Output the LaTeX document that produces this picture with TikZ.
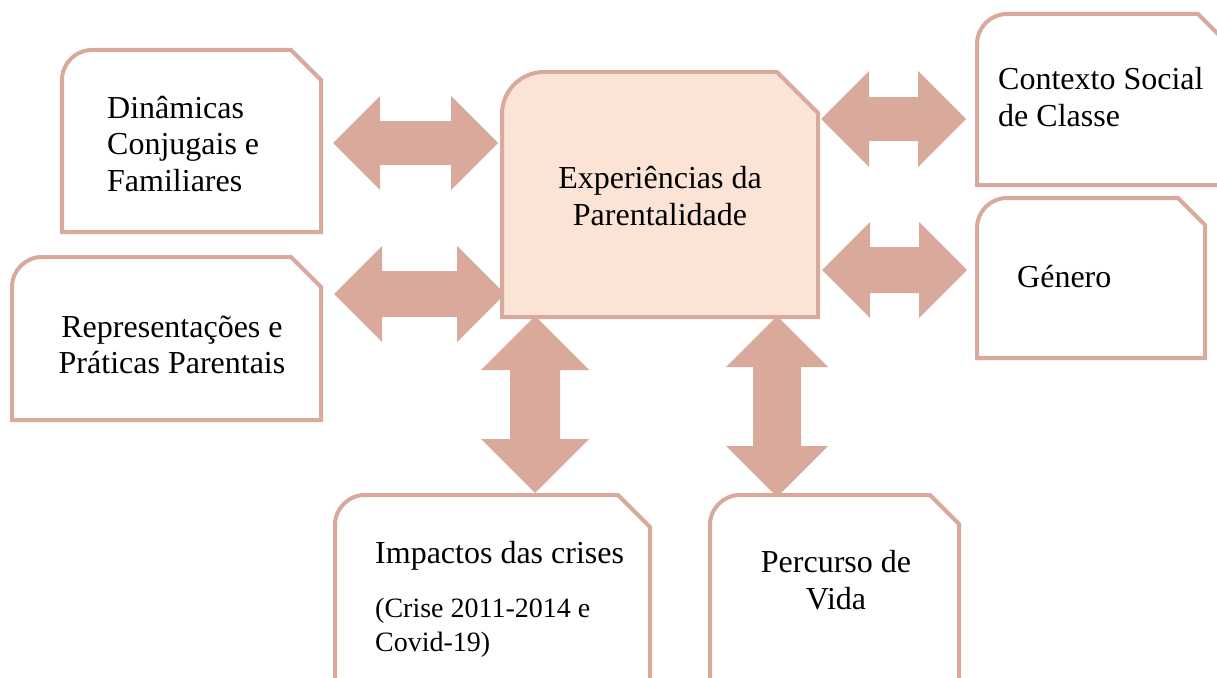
\documentclass[tikz,border=0pt]{standalone}
\usepackage{fontspec}
\setmainfont{Liberation Serif}
\usetikzlibrary{calc}

\definecolor{rose}{HTML}{D9A99B}
\definecolor{peach}{HTML}{FBE4D5}

\tikzset{
  frame/.style={inner sep=0pt, outer sep=0pt},
  boxline/.style={draw=rose, line width=4pt, line join=miter},
  lbl/.style={inner sep=0pt, font=\fontsize{32}{36.5}\selectfont},
}

% outline: round top-left corner, cut top-right corner
\newcommand{\cutbox}[4][]{%
  \draw[boxline,#1] (#2.south west) -- ($(#2.north west)+(0,#3)$)
    arc[start angle=180, end angle=90, radius=#3pt]
    -- ($(#2.north east)+(-#4,0)$) -- ($(#2.north east)+(0,#4)$)
    -- (#2.south east) -- cycle;}

% block arrow with two heads between two tips
\newcommand{\biarrow}[4]{%
  \coordinate (h1) at ($(#1)!#3pt!(#2)$);
  \coordinate (h2) at ($(#2)!#3pt!(#1)$);
  \fill[rose] (#1) -- ($(h1)!#3pt!90:(#2)$) -- ($(h1)!#4pt!90:(#2)$)
    -- ($(h2)!#4pt!-90:(#1)$) -- ($(h2)!#3pt!-90:(#1)$) -- (#2)
    -- ($(h2)!#3pt!90:(#1)$) -- ($(h2)!#4pt!90:(#1)$)
    -- ($(h1)!#4pt!-90:(#2)$) -- ($(h1)!#3pt!-90:(#2)$) -- cycle;}

\begin{document}
\begin{tikzpicture}[x=1pt,y=-1pt]
\useasboundingbox (0,0) rectangle (1217,677);
\clip (0,0) rectangle (1217,677);

% boxes
\node[frame, anchor=north west, minimum width=259pt, minimum height=182pt] (dyn) at (62,50) {};
\node[frame, anchor=north west, minimum width=309pt, minimum height=163pt] (rep) at (12,257) {};
\node[frame, anchor=north west, minimum width=316pt, minimum height=245pt] (exp) at (502,72) {};
\node[frame, anchor=north west, minimum width=251pt, minimum height=171pt] (ctx) at (977,14) {};
\node[frame, anchor=north west, minimum width=228pt, minimum height=160pt] (gen) at (977,198) {};
\node[frame, anchor=north west, minimum width=315pt, minimum height=230pt] (imp) at (335,495) {};
\node[frame, anchor=north west, minimum width=249pt, minimum height=230pt] (per) at (710,495) {};

% arrow tips
\coordinate (dyn-e) at (333,143);  \coordinate (exp-w1) at (498,143);
\coordinate (rep-e) at (334,294);  \coordinate (exp-w2) at (505,294);
\coordinate (exp-e1) at (821,119); \coordinate (ctx-w) at (966,119);
\coordinate (exp-e2) at (822,270); \coordinate (gen-w) at (967,270);
\coordinate (exp-s1) at (535,316); \coordinate (imp-n) at (535,493);
\coordinate (exp-s2) at (777,316); \coordinate (per-n) at (777,497);

\biarrow{dyn-e}{exp-w1}{47}{22}
\biarrow{rep-e}{exp-w2}{48}{23}
\biarrow{exp-e1}{ctx-w}{48}{22}
\biarrow{exp-e2}{gen-w}{48}{23}
\biarrow{exp-s1}{imp-n}{54}{25}
\biarrow{exp-s2}{per-n}{51}{24}

\cutbox{dyn}{30}{30}
\cutbox{rep}{30}{30}
\cutbox[fill=peach]{exp}{42}{41}
\cutbox{ctx}{30}{30}
\cutbox{gen}{30}{27}
\cutbox{imp}{30}{32}
\cutbox{per}{30}{29}

% texts
\node[lbl, anchor=west, align=left] (dyntxt) at (107,144) {Dinâmicas\\Conjugais e\\Familiares};
\node[lbl, align=center] (reptxt) at (172,345) {Representações e\\Práticas Parentais};
\node[lbl, align=center] (exptxt) at (660,196) {Experiências da\\Parentalidade};
\node[lbl, anchor=west, align=left] (ctxtxt) at (998,97) {Contexto Social\\de Classe};
\node[lbl, anchor=west] (gentxt) at (1017,277) {Género};
\node[lbl, anchor=west] (imptxt) at (375,556) {Impactos das crises};
\node[lbl, anchor=west, align=left, font=\fontsize{28}{34}\selectfont] (impnote) at (375,628) {(Crise 2011-2014 e\\Covid-19)};
\node[lbl, align=center] (pertxt) at (836,580) {Percurso de\\Vida};
\end{tikzpicture}
\end{document}
